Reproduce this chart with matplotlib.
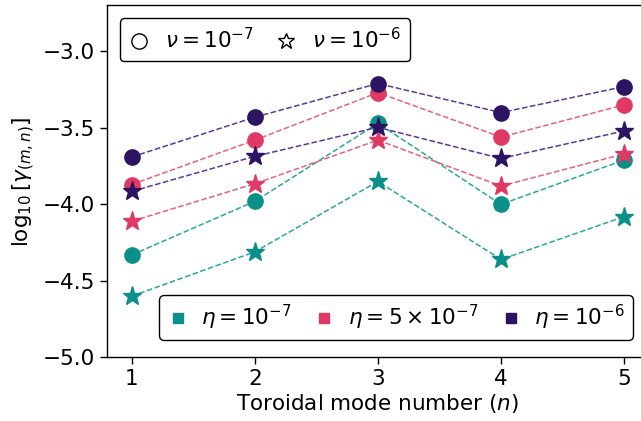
import matplotlib
matplotlib.use("Agg")
import matplotlib.pyplot as plt
from matplotlib.lines import Line2D

# ---------- data ----------
n_modes = [1, 2, 3, 4, 5]
eta_labels = [r"$\eta = 10^{-7}$", r"$\eta = 5\times10^{-7}$", r"$\eta = 10^{-6}$"]
colors = ["#0a9088", "#e03a64", "#2d1462"]
line_colors = ["#2aa69e", "#e8607f", "#5a3a94"]

# nu = 1e-7 (circles)
gamma_nu7 = [
    [-4.33, -3.98, -3.47, -4.00, -3.71],   # eta = 1e-7
    [-3.87, -3.58, -3.27, -3.56, -3.35],   # eta = 5e-7
    [-3.69, -3.43, -3.21, -3.40, -3.23],   # eta = 1e-6
]
# nu = 1e-6 (stars)
gamma_nu6 = [
    [-4.60, -4.31, -3.85, -4.36, -4.08],
    [-4.11, -3.865, -3.58, -3.88, -3.67],
    [-3.915, -3.686, -3.496, -3.70, -3.52],
]

FS = 15.5
plt.rcParams["font.family"] = "DejaVu Sans"
plt.rcParams["mathtext.fontset"] = "dejavusans"

fig = plt.figure(figsize=(6.41, 4.21), dpi=100)
ax = fig.add_axes([0.167, 0.151, 0.845, 0.836])

for i in range(3):
    ax.plot(n_modes, gamma_nu7[i], ls="--", lw=1.1, color=line_colors[i])
    ax.plot(n_modes, gamma_nu6[i], ls="--", lw=1.1, color=line_colors[i])
for i in range(3):
    ax.plot(n_modes, gamma_nu7[i], ls="", marker="o", ms=11, color=colors[i])
    ax.plot(n_modes, gamma_nu6[i], ls="", marker="*", ms=14, color=colors[i])

ax.set_xlim(0.8, 5.2)
ax.set_ylim(-5.0, -2.7)
ax.set_xticks(n_modes)
ax.set_yticks([-5.0, -4.5, -4.0, -3.5, -3.0])
ax.tick_params(labelsize=FS, length=5, width=1)
ax.set_xlabel(r"Toroidal mode number ($n$)", fontsize=FS, labelpad=2)
ax.set_ylabel(r"$\log_{10}[\gamma_{(m,n)}]$", fontsize=FS, labelpad=4)
for s in ax.spines.values():
    s.set_linewidth(1)

# legend 1: nu markers
h_nu = [Line2D([], [], ls="", marker="o", ms=11, mfc="white", mec="black", mew=1),
        Line2D([], [], ls="", marker="*", ms=12, mfc="white", mec="black", mew=1)]
leg1 = ax.legend(h_nu, [r"$\nu = 10^{-7}$", r"$\nu = 10^{-6}$"], loc="upper left",
                 ncol=2, fontsize=FS, frameon=True, edgecolor="black", framealpha=1,
                 handletextpad=0.7, columnspacing=1.0, handlelength=1.0,
                 borderpad=0.4, borderaxespad=0.6)
leg1.get_frame().set_linewidth(1)
ax.add_artist(leg1)

# legend 2: eta colours
h_eta = [Line2D([], [], ls="", marker="s", ms=7, color=c) for c in colors]
leg2 = ax.legend(h_eta, eta_labels, loc="lower right", ncol=3, fontsize=FS,
                 frameon=True, edgecolor="black", framealpha=1,
                 handletextpad=0.6, columnspacing=1.0, handlelength=1.0,
                 borderpad=0.35, bbox_to_anchor=(0.99, 0.02))
leg2.get_frame().set_linewidth(1)

fig.savefig("out.png", dpi=100)
